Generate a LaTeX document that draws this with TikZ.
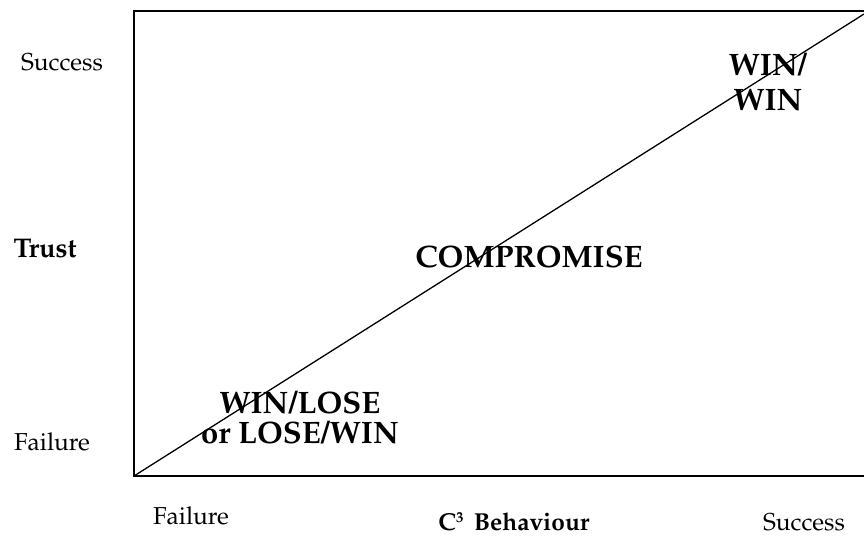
\documentclass[tikz,border=0pt]{standalone}
\usepackage[T1]{fontenc}
\usepackage{mathpazo}
\begin{document}
\begin{tikzpicture}[x=1pt,y=-1pt,
  lbl/.style={inner sep=0pt,anchor=base,font=\fontsize{24.5}{30}\selectfont},
  blbl/.style={inner sep=0pt,anchor=base,font=\fontsize{24.5}{30}\selectfont\bfseries},
  big/.style={inner sep=0pt,anchor=base,align=center,font=\fontsize{31}{30}\selectfont\bfseries},
  frame/.style={line width=1.6pt},
  diag/.style={line width=1.3pt}]
\useasboundingbox (0,0) rectangle (864,536);
\coordinate (o) at (134,476);
\coordinate (tl) at (134,11);
\coordinate (tr) at (864,11);
\coordinate (br) at (864,476);
\coordinate (d) at (864,14);
\draw[frame] (tr) -- (tl) -- (o) -- (br);
\draw[diag] (o) -- (d);
\node[lbl] (ys) at (62,70) {Success};
\node[blbl,font=\fontsize{27}{30}\selectfont\bfseries] (yt) at (45,257) {Trust};
\node[lbl] (yf) at (52,450) {Failure};
\node[lbl] (xf) at (191,524) {Failure};
\node[blbl] (xc) at (514,530) {C\raisebox{8pt}{\fontsize{15}{15}\selectfont 3}\hspace{4pt} Behaviour};
\node[lbl] (xs) at (804,530) {Success};
\node[big] (cm) at (529,267) {COMPROMISE};
\node[big] (wl) at (300,443) {WIN/LOSE\\or LOSE/WIN};
\node[big] (ww) at (768,110) {WIN/\\[5pt]WIN};
\end{tikzpicture}
\end{document}
